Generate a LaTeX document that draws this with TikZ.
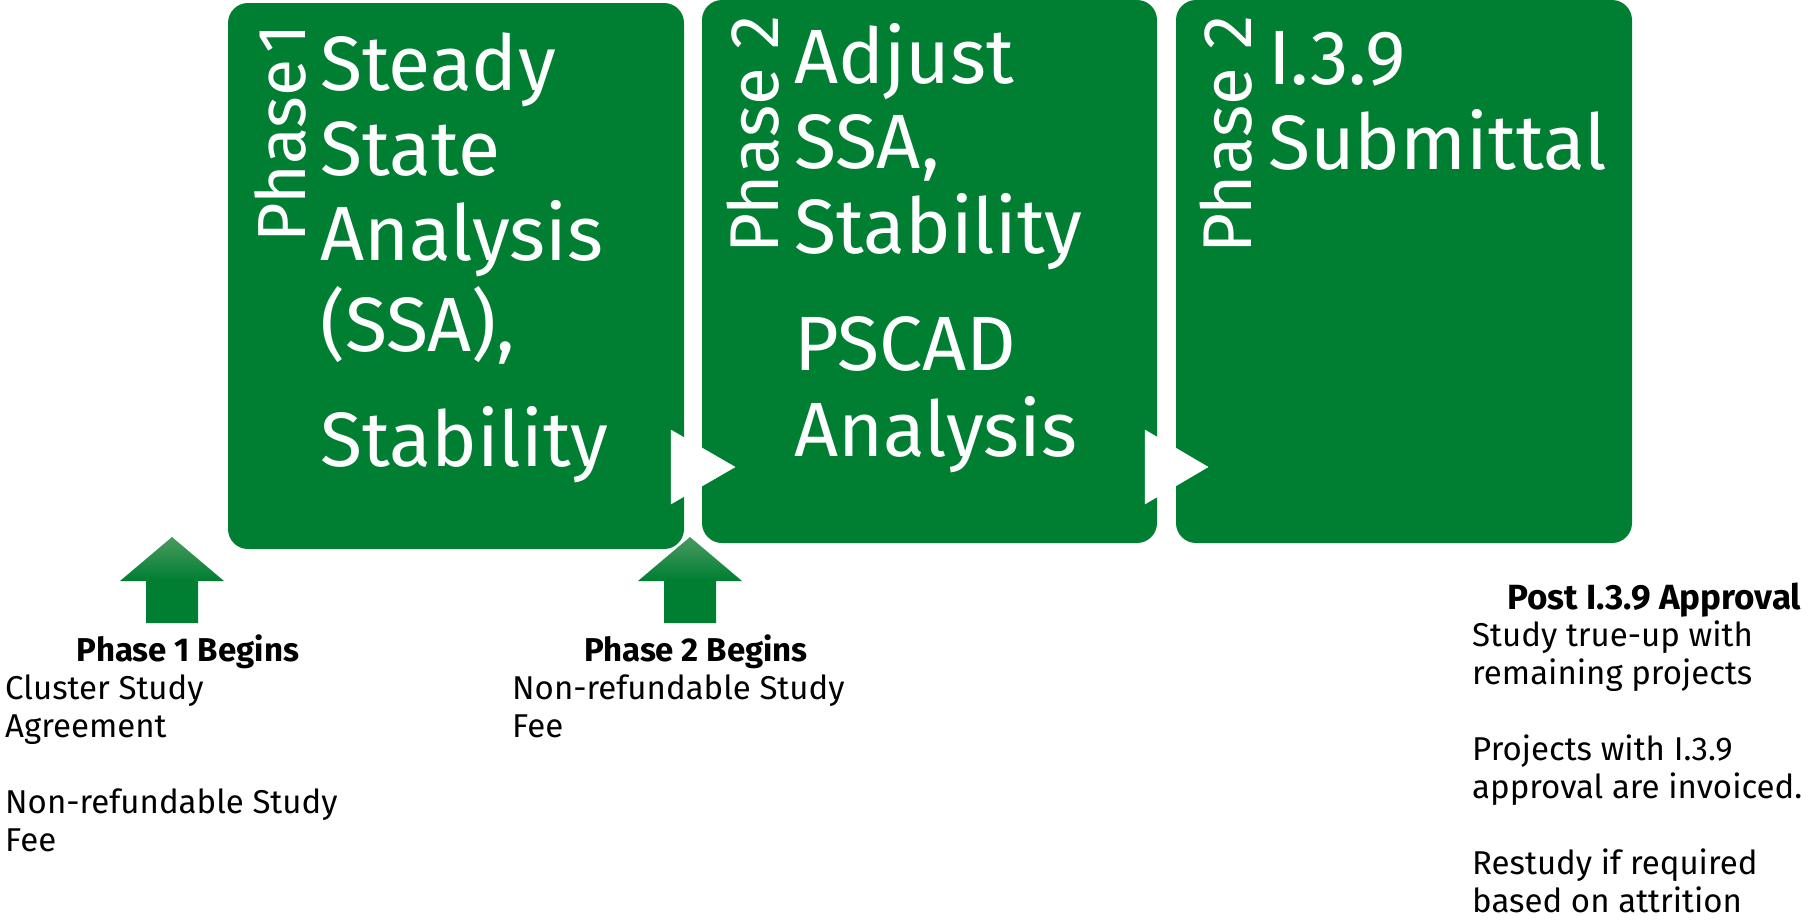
\documentclass[tikz,border=0pt]{standalone}
\usepackage{fontspec}
\setmainfont{Fira Sans}
\definecolor{boxgreen}{HTML}{007F33}
\definecolor{arrowtop}{HTML}{4A9A60}
\newcommand{\stack}[1]{\begin{tabular}[t]{@{}l@{}}#1\end{tabular}}
\begin{document}
\begin{tikzpicture}[x=1pt,y=-1pt,
  stage/.style={fill=boxgreen, rounded corners=20pt, draw=none, inner sep=0},
  big/.style={text=white, inner sep=0, anchor=base west, font=\fontsize{77}{85}\selectfont},
  phase/.style={text=white, inner sep=0, anchor=base west, rotate=90, font=\fontsize{69}{80}\selectfont},
  small/.style={inner sep=0, anchor=base west, font=\fontsize{33}{38}\selectfont},
  head/.style={inner sep=0, anchor=base, font=\fontsize{33}{38}\selectfont\bfseries},
  chev/.style={fill=white, draw=white},
  uparrow/.style={top color=arrowtop, bottom color=boxgreen, middle color=boxgreen}
]
\useasboundingbox (0,0) rectangle (1808,924);
\node[stage, minimum width=456pt, minimum height=546pt] (b1) at (456,276) {};
\node[stage, minimum width=455pt, minimum height=543pt] (b2) at (929.5,271.5) {};
\node[stage, minimum width=456pt, minimum height=543pt] (b3) at (1404,271.5) {};
\fill[chev] (671,430) -- (735,467) -- (671,504) -- cycle;
\fill[chev] (1145,430) -- (1208,467) -- (1145,504) -- cycle;
\shade[uparrow] (172,537) -- (224,581) -- (198,581) -- (198,623) -- (146,623) -- (146,581) -- (120,581) -- cycle;
\shade[uparrow] (690,537) -- (742,581) -- (716,581) -- (716,623) -- (664,623) -- (664,581) -- (638,581) -- cycle;
\node[phase, font=\fontsize{68}{80}\selectfont] (p1) at (305,243) {Phase\kern6pt 1};
\node[phase] (p2) at (778,254) {Phase 2};
\node[phase] (p3) at (1251,254) {Phase 2};
\node[big] (t1) at (320,90) {\stack{Steady\\State\\Analysis\\(SSA),\\[30pt]Stability}};
\node[big] (t2) at (794,83) {\stack{Adjust\\SSA,\\Stability\\[32pt]PSCAD\\Analysis}};
\node[big] (t3) at (1268,84) {\stack{I.3.9\\Submittal}};
\node[head] (h1) at (188,661) {Phase 1 Begins};
\node[small] (d1) at (5,699) {\stack{Cluster Study\\Agreement\\[38pt]Non-refundable Study\\Fee}};
\node[head] (h2) at (696,661) {Phase 2 Begins};
\node[small] (d2) at (512,699) {\stack{Non-refundable Study\\Fee}};
\node[head, anchor=base west, font=\fontsize{35}{38}\selectfont\bfseries] (h3) at (1507,609) {Post I.3.9 Approval};
\node[small] (d3) at (1472,646) {\stack{Study true-up with\\remaining projects\\[38pt]Projects with I.3.9\\approval are invoiced.\\[38pt]Restudy if required\\based on attrition}};
\end{tikzpicture}
\end{document}
